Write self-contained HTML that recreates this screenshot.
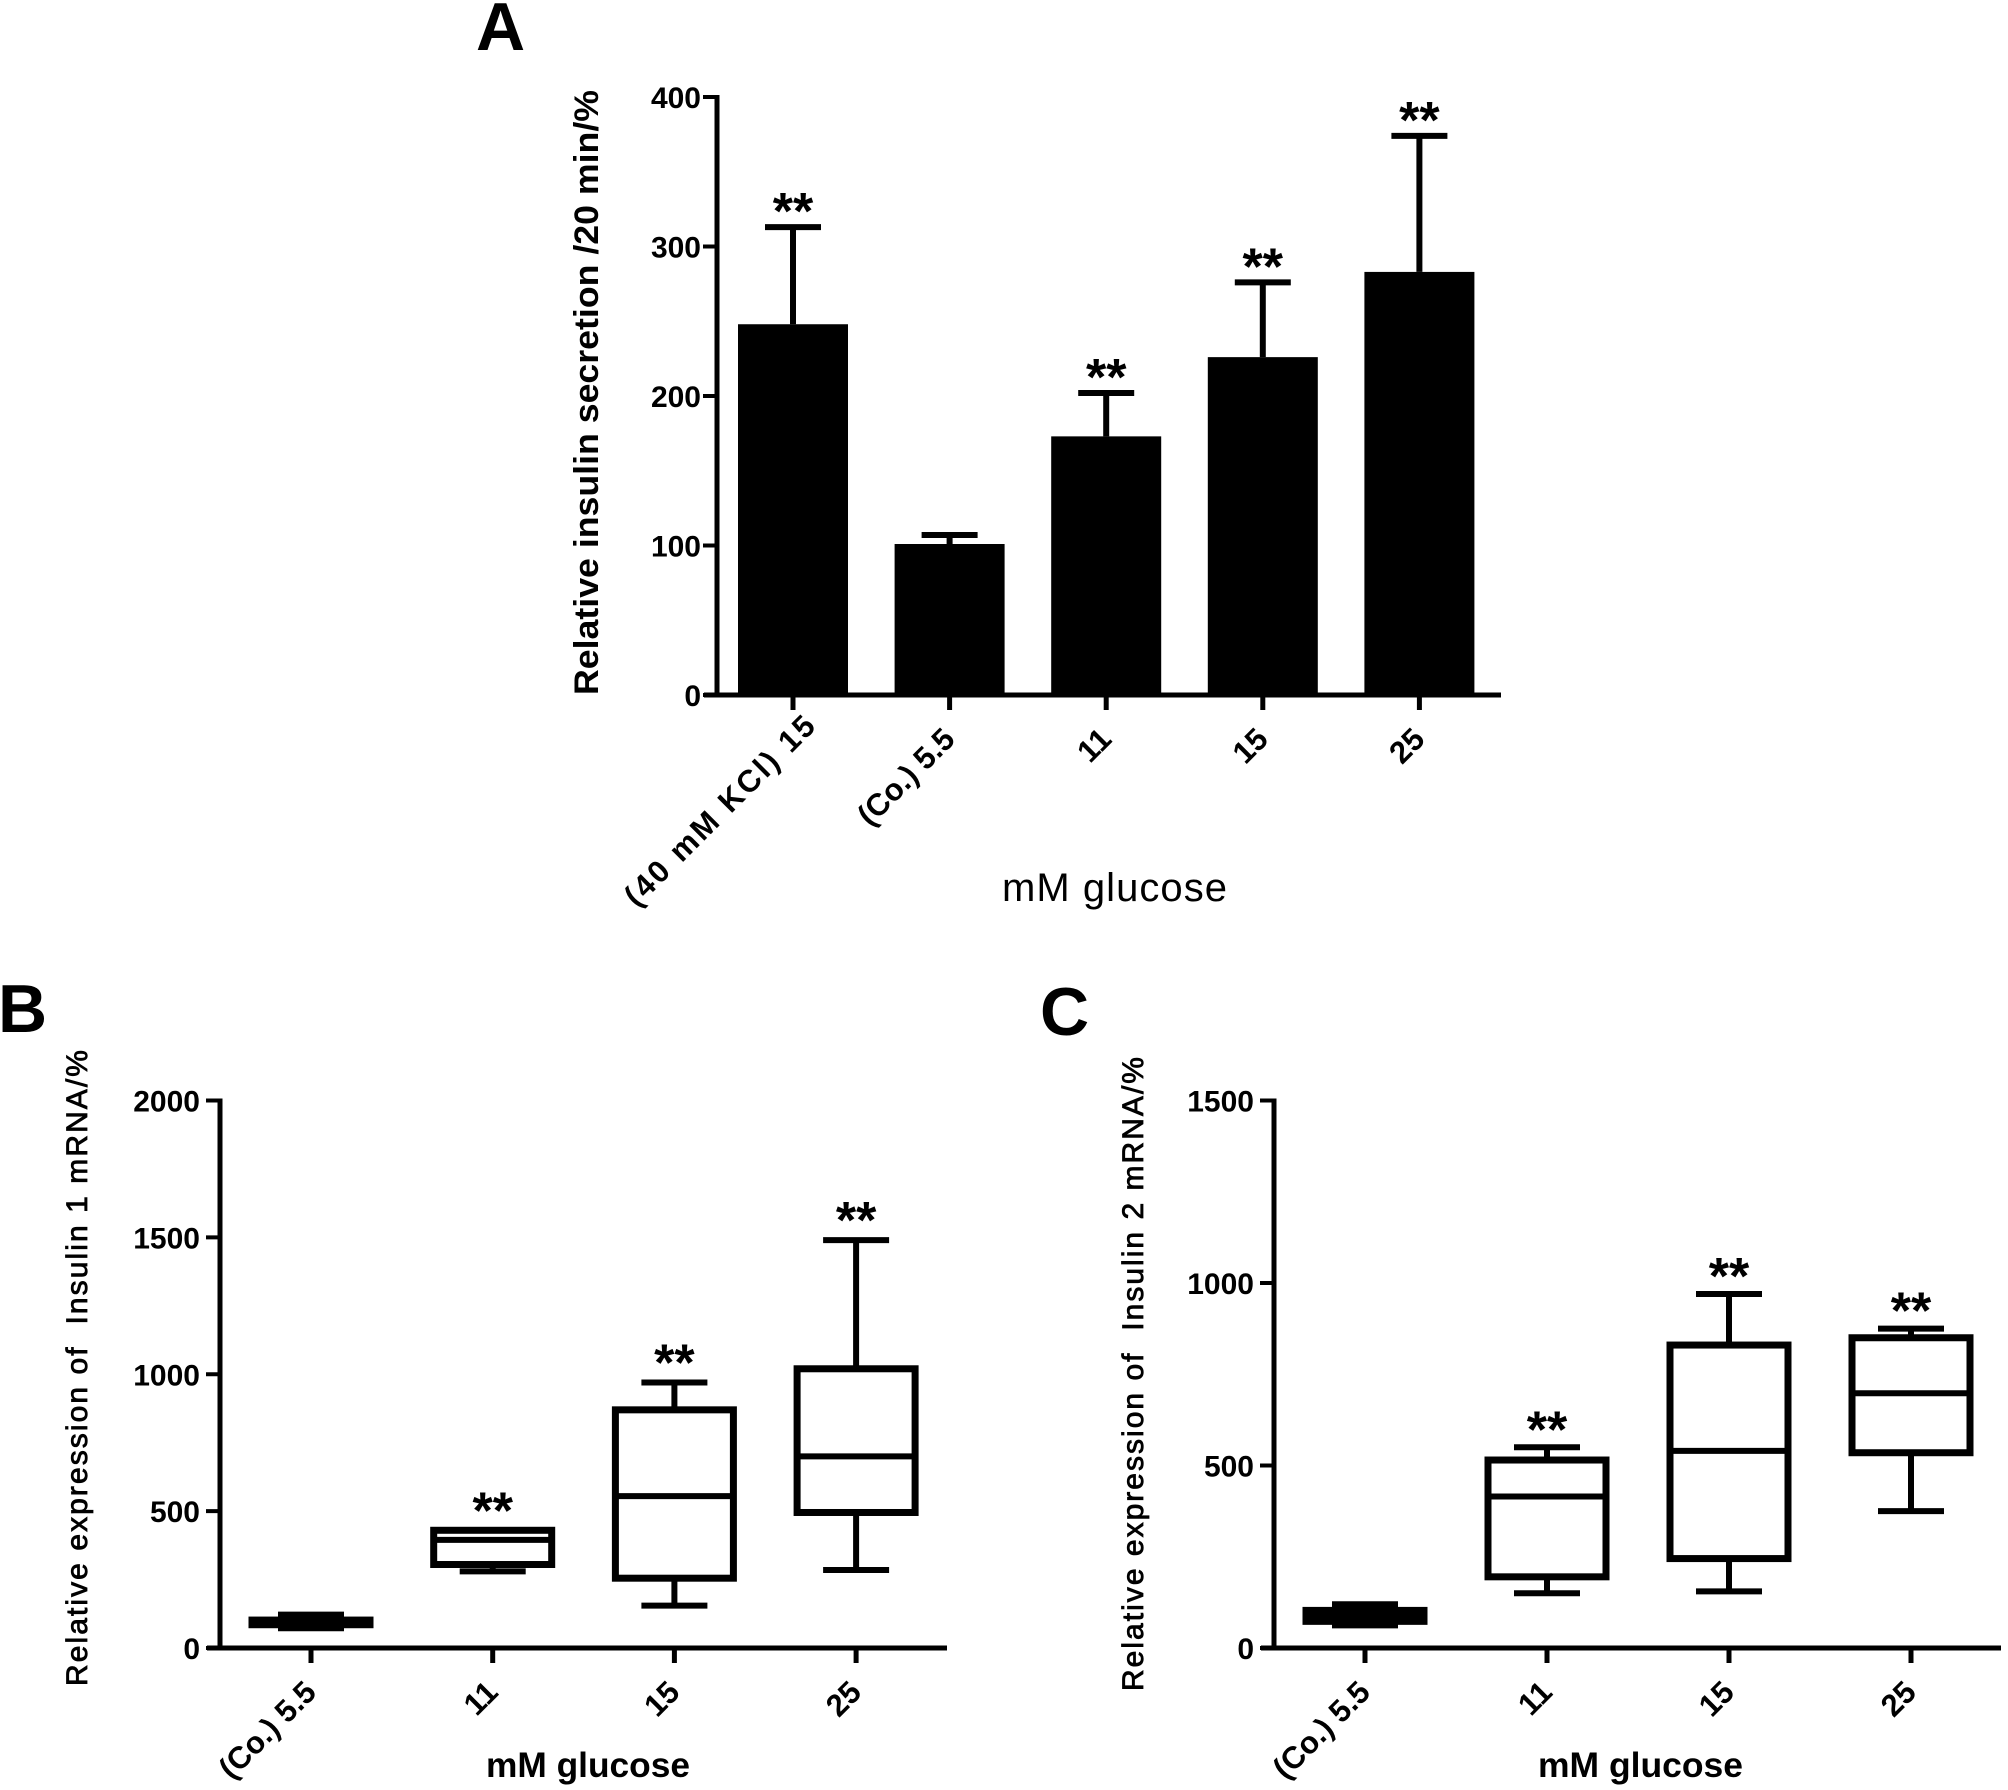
<!DOCTYPE html>
<html>
<head>
<meta charset="utf-8">
<style>
html,body{margin:0;padding:0;background:#fff;width:2008px;height:1790px;overflow:hidden}
svg{display:block}
text{font-family:"Liberation Sans",sans-serif;fill:#000}
</style>
</head>
<body>
<svg id="fig" width="2008" height="1790" viewBox="0 0 2008 1790" xmlns="http://www.w3.org/2000/svg">
<rect width="2008" height="1790" fill="#fff"/>
<text x="476" y="50" font-size="68" font-weight="bold">A</text>
<text x="-2" y="1032" font-size="68" font-weight="bold">B</text>
<text x="1040" y="1035" font-size="68" font-weight="bold">C</text>
<text transform="translate(598,695) rotate(-90)" font-size="34" font-weight="bold" textLength="605" lengthAdjust="spacingAndGlyphs">Relative insulin secretion /20 min/%</text>
<text transform="translate(87,1686) rotate(-90)" font-size="30" textLength="636" lengthAdjust="spacing" stroke="#000" stroke-width="0.8">Relative expression of &#160;Insulin 1 mRNA/%</text>
<text transform="translate(1143,1691) rotate(-90)" font-size="30" textLength="634" lengthAdjust="spacing" stroke="#000" stroke-width="0.8">Relative expression of &#160;Insulin 2 mRNA/%</text>
<text x="1002" y="901" font-size="40" textLength="225">mM glucose</text>
<text x="486" y="1777" font-size="35" font-weight="bold" textLength="204" lengthAdjust="spacingAndGlyphs">mM glucose</text>
<text x="1538" y="1777" font-size="35" font-weight="bold" textLength="205" lengthAdjust="spacingAndGlyphs">mM glucose</text>
</svg>
<script>
// Panel A data
const aCategories = ["(40 mM KCl) 15", "(Co.) 5.5", "11", "15", "25"];
const aMeans = [248, 101, 173, 226, 283];
const aErrorTops = [313, 107, 202, 276, 374];
const aStars = ["**", "", "**", "**", "**"];
const aTicks = [0, 100, 200, 300, 400];

// Panel B data
const bCategories = ["(Co.) 5.5", "11", "15", "25"];
const bWhiskerLow = [72, 280, 155, 285];
const bQ1 = [85, 305, 255, 495];
const bMedian = [95, 395, 555, 700];
const bQ3 = [102, 430, 870, 1020];
const bWhiskerHigh = [122, 430, 970, 1490];
const bStars = ["", "**", "**", "**"];
const bTicks = [0, 500, 1000, 1500, 2000];

// Panel C data
const cCategories = ["(Co.) 5.5", "11", "15", "25"];
const cWhiskerLow = [62, 150, 155, 375];
const cQ1 = [73, 195, 245, 535];
const cMedian = [88, 415, 540, 698];
const cQ3 = [103, 515, 830, 850];
const cWhiskerHigh = [120, 550, 970, 875];
const cStars = ["", "**", "**", "**"];
const cTicks = [0, 500, 1000, 1500];

const NS = "http://www.w3.org/2000/svg";
const svg = document.getElementById("fig");

function make(tag, attrs, parent) {
  const el = document.createElementNS(NS, tag);
  for (const k in attrs) el.setAttribute(k, attrs[k]);
  (parent || svg).appendChild(el);
  return el;
}
function line(x1, y1, x2, y2, w, parent) {
  return make("line", {x1: x1, y1: y1, x2: x2, y2: y2, stroke: "#000", "stroke-width": w}, parent);
}
function axes(panel, x0, xEnd, y0, yTop, yMax, ticks, cats, xFirst, xStep, labelGap) {
  const sy = v => y0 - (v / yMax) * (y0 - yTop);
  const sx = i => xFirst + i * xStep;
  const g = make("g", {});
  
  
  const yl = line(x0, yTop - 2, x0, y0, 5, g);
  
  
  const xl = line(x0 - 13, y0, xEnd, y0, 5, g);
  
  
  ticks.forEach(t => {
    const tk = line(x0 - 14, sy(t), x0, sy(t), 4, g);
    
    
    const lab = make("text", {x: x0 - labelGap, y: sy(t) + 11, "text-anchor": "end", "font-size": 30, "font-weight": "bold"}, g);
    
    
    lab.textContent = t;
  });
  cats.forEach((c, i) => {
    const tk = line(sx(i), y0, sx(i), y0 + 15, 5, g);
    
    
    const isLong = c.length > 10;
    const lab = make("text", {transform: "translate(" + (sx(i) + (isLong ? 24 : 7)) + "," + (y0 + (isLong ? 33 : 46)) + ") rotate(-45)", "text-anchor": "end", "font-size": 31, "font-weight": "bold"}, g);
    if (isLong) lab.setAttribute("textLength", 255);
    
    
    lab.textContent = c;
  });
  return {sx: sx, sy: sy};
}
function stars(panel, label, x, y) {
  if (!label) return;
  const s = make("text", {x: x, y: y + 27, "text-anchor": "middle", "font-size": 52, "font-weight": "bold"});
  
  
  s.textContent = label;
}

// Panel A
(function () {
  const ax = axes("a", 717, 1501, 695, 97, 400, aTicks, aCategories, 793, 156.6, 16);
  aMeans.forEach((m, i) => {
    const cx = ax.sx(i);
    const bar = make("rect", {x: cx - 55, y: ax.sy(m), width: 110, height: 695 - ax.sy(m), fill: "#000"});
    
    
    const st = line(cx, ax.sy(m), cx, ax.sy(aErrorTops[i]), 6);
    
    
    const cap = line(cx - 28, ax.sy(aErrorTops[i]), cx + 28, ax.sy(aErrorTops[i]), 6);
    
    
    stars("a", aStars[i], cx, ax.sy(aErrorTops[i]) - 25);
  });
})();

function boxes(panel, ax, low, q1, med, q3, high, starLabels, lift) {
  low.forEach((_, i) => {
    const cx = ax.sx(i);
    const g = make("g", {});
    
    
    line(cx, ax.sy(high[i]), cx, ax.sy(q3[i]), 6, g);
    line(cx, ax.sy(q1[i]), cx, ax.sy(low[i]), 6, g);
    line(cx - 33, ax.sy(high[i]), cx + 33, ax.sy(high[i]), 6, g);
    line(cx - 33, ax.sy(low[i]), cx + 33, ax.sy(low[i]), 6, g);
    make("rect", {x: cx - 59, y: ax.sy(q3[i]), width: 118, height: ax.sy(q1[i]) - ax.sy(q3[i]), fill: "none", stroke: "#000", "stroke-width": 7}, g);
    line(cx - 59, ax.sy(med[i]), cx + 59, ax.sy(med[i]), 6, g);
    stars(panel, starLabels[i], cx, ax.sy(high[i]) - lift);
  });
}

// Panel B
(function () {
  const ax = axes("b", 220, 947, 1648, 1100.5, 2000, bTicks, bCategories, 311, 181.7, 20);
  boxes("b", ax, bWhiskerLow, bQ1, bMedian, bQ3, bWhiskerHigh, bStars, 29);
})();

// Panel C
(function () {
  const ax = axes("c", 1274, 2001, 1648, 1100.5, 1500, cTicks, cCategories, 1365, 182, 20);
  boxes("c", ax, cWhiskerLow, cQ1, cMedian, cQ3, cWhiskerHigh, cStars, 27);
})();
</script>
</body>
</html>
